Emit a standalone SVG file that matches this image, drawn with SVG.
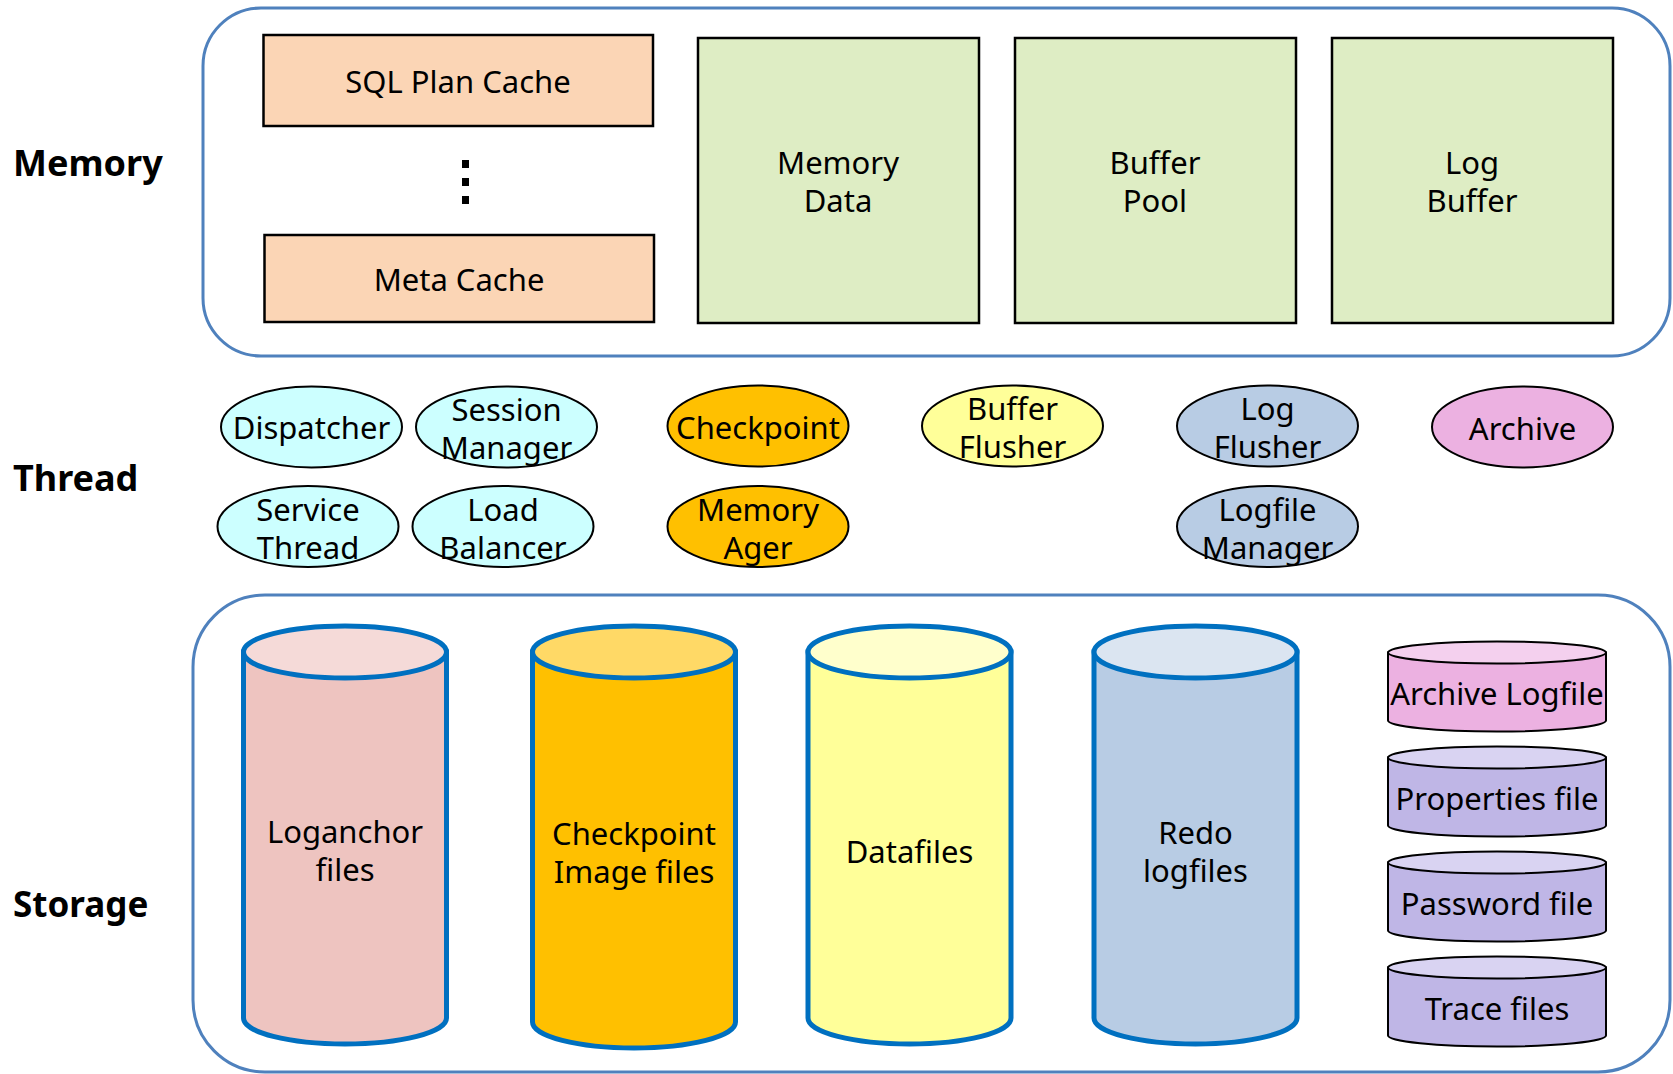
<svg xmlns="http://www.w3.org/2000/svg" width="1673" height="1074" viewBox="0 0 1673 1074">
<style>
text{font-family:"Noto Sans","Liberation Sans",sans-serif;font-size:31px;fill:#000;text-anchor:middle;dominant-baseline:central}
.lbl{font-weight:bold;font-size:36px;text-anchor:start;dominant-baseline:alphabetic}
.container{fill:#fff;stroke:#4F81BD;stroke-width:3}
.peach{fill:#FBD5B5;stroke:#000;stroke-width:2.5}
.green{fill:#DEEDC4;stroke:#000;stroke-width:2.5}
ellipse.th{stroke:#000;stroke-width:2}
.cyan{fill:#CCFFFF}
.orange{fill:#FFC000}
.yellow{fill:#FFFF99}
.blue{fill:#B8CCE4}
.pink{fill:#ECB1E1}
.cyl{stroke:#0070C0;stroke-width:5}
.scyl{stroke:#000;stroke-width:2}
</style>
<g id="labels">
<text class="lbl" x="13" y="176">Memory</text>
<text class="lbl" x="13" y="491">Thread</text>
<text class="lbl" x="13" y="917" style="font-size:35px">Storage</text>
</g>
<g id="memory-container"><rect class="container" x="203" y="8" width="1467" height="348" rx="58" ry="58"/></g>
<g id="storage-container"><rect class="container" x="193" y="595" width="1477" height="477" rx="72" ry="72"/></g>
<g id="connectors"></g>
<g id="sql-plan-cache"><rect class="peach" x="263.5" y="35" width="389.5" height="91"/><text x="458" y="81">SQL Plan Cache</text></g>
<g id="dots"><rect x="462" y="160" width="7" height="8"/><rect x="462" y="178" width="7" height="8"/><rect x="462" y="196" width="7" height="8"/></g>
<g id="meta-cache"><rect class="peach" x="264.5" y="235" width="389.5" height="87"/><text x="459" y="279">Meta Cache</text></g>
<g id="memory-data"><rect class="green" x="698" y="38" width="281" height="285"/><text x="838" y="162">Memory</text><text x="838" y="200">Data</text></g>
<g id="buffer-pool"><rect class="green" x="1015" y="38" width="281" height="285"/><text x="1155" y="162">Buffer</text><text x="1155" y="200">Pool</text></g>
<g id="log-buffer"><rect class="green" x="1332" y="38" width="281" height="285"/><text x="1472" y="162">Log</text><text x="1472" y="200">Buffer</text></g>
<g id="dispatcher"><ellipse class="th cyan" cx="311.5" cy="427" rx="90.5" ry="40.5"/><text x="311.5" y="427">Dispatcher</text></g>
<g id="session-manager"><ellipse class="th cyan" cx="506.5" cy="427" rx="90.5" ry="40.5"/><text x="506.5" y="409">Session</text><text x="506.5" y="447">Manager</text></g>
<g id="checkpoint"><ellipse class="th orange" cx="758" cy="426" rx="90.5" ry="40.5"/><text x="758" y="427">Checkpoint</text></g>
<g id="buffer-flusher"><ellipse class="th yellow" cx="1012.5" cy="426" rx="90.5" ry="40.5"/><text x="1012.5" y="408">Buffer</text><text x="1012.5" y="446">Flusher</text></g>
<g id="log-flusher"><ellipse class="th blue" cx="1267.5" cy="426" rx="90.5" ry="40.5"/><text x="1267.5" y="408">Log</text><text x="1267.5" y="446">Flusher</text></g>
<g id="archive"><ellipse class="th pink" cx="1522.5" cy="427" rx="90.5" ry="40.5"/><text x="1522.5" y="428">Archive</text></g>
<g id="service-thread"><ellipse class="th cyan" cx="308" cy="526.5" rx="90.5" ry="40.5"/><text x="308" y="509">Service</text><text x="308" y="547">Thread</text></g>
<g id="load-balancer"><ellipse class="th cyan" cx="503" cy="526.5" rx="90.5" ry="40.5"/><text x="503" y="509">Load</text><text x="503" y="547">Balancer</text></g>
<g id="memory-ager"><ellipse class="th orange" cx="758" cy="526.5" rx="90.5" ry="40.5"/><text x="758" y="509">Memory</text><text x="758" y="547">Ager</text></g>
<g id="logfile-manager"><ellipse class="th blue" cx="1267.5" cy="526.5" rx="90.5" ry="40.5"/><text x="1267.5" y="509">Logfile</text><text x="1267.5" y="547">Manager</text></g>
<g id="loganchor-files"><path class="cyl" fill="#EEC4C0" d="M243.5,652 L243.5,1018 A101.5,26 0 0 0 446.5,1018 L446.5,652 Z"/><ellipse class="cyl" fill="#F5DAD8" cx="345" cy="652" rx="101.5" ry="26"/><text x="345" y="831">Loganchor</text><text x="345" y="869">files</text></g>
<g id="checkpoint-image-files"><path class="cyl" fill="#FFC000" d="M532.5,652 L532.5,1022 A101.5,26 0 0 0 735.5,1022 L735.5,652 Z"/><ellipse class="cyl" fill="#FFD966" cx="634" cy="652" rx="101.5" ry="26"/><text x="634" y="833">Checkpoint</text><text x="634" y="871">Image files</text></g>
<g id="datafiles"><path class="cyl" fill="#FFFF99" d="M808,652 L808,1018 A101.5,26 0 0 0 1011,1018 L1011,652 Z"/><ellipse class="cyl" fill="#FFFFCC" cx="909.5" cy="652" rx="101.5" ry="26"/><text x="909.5" y="851">Datafiles</text></g>
<g id="redo-logfiles"><path class="cyl" fill="#B8CCE4" d="M1094,652 L1094,1018 A101.5,26 0 0 0 1297,1018 L1297,652 Z"/><ellipse class="cyl" fill="#DBE5F1" cx="1195.5" cy="652" rx="101.5" ry="26"/><text x="1195.5" y="832">Redo</text><text x="1195.5" y="870">logfiles</text></g>
<g id="archive-logfile"><path class="scyl" fill="#ECB1E1" d="M1388,652.5 L1388,720.5 A109,11 0 0 0 1606,720.5 L1606,652.5 Z"/><ellipse class="scyl" fill="#F4D0EE" cx="1497" cy="652.5" rx="109" ry="11"/><text x="1497" y="693">Archive Logfile</text></g>
<g id="properties-file"><path class="scyl" fill="#BFB6E6" d="M1388,757.5 L1388,825.5 A109,11 0 0 0 1606,825.5 L1606,757.5 Z"/><ellipse class="scyl" fill="#D9D3F2" cx="1497" cy="757.5" rx="109" ry="11"/><text x="1497" y="798">Properties file</text></g>
<g id="password-file"><path class="scyl" fill="#BFB6E6" d="M1388,862.5 L1388,930.5 A109,11 0 0 0 1606,930.5 L1606,862.5 Z"/><ellipse class="scyl" fill="#D9D3F2" cx="1497" cy="862.5" rx="109" ry="11"/><text x="1497" y="903">Password file</text></g>
<g id="trace-files"><path class="scyl" fill="#BFB6E6" d="M1388,967.5 L1388,1035.5 A109,11 0 0 0 1606,1035.5 L1606,967.5 Z"/><ellipse class="scyl" fill="#D9D3F2" cx="1497" cy="967.5" rx="109" ry="11"/><text x="1497" y="1008">Trace files</text></g>
</svg>
